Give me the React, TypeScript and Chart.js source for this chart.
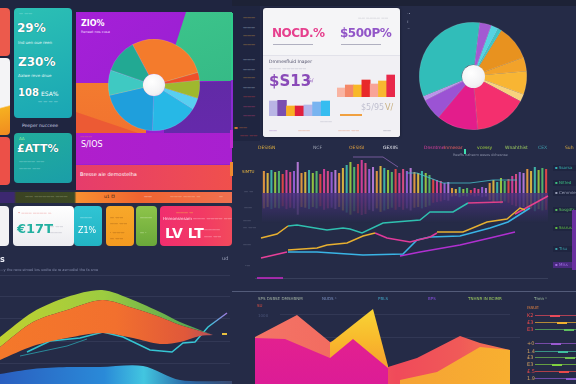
import React, { useEffect, useRef } from "react";
import { Chart, registerables } from "chart.js";

Chart.register(...registerables);

// ---------------- DATA ----------------
const donutLeftLabels = ["Orange", "Red", "Olive", "Sky", "Cyan", "Blue", "Aqua", "Teal"];
const donutLeftValues = [102, 10, 23, 15, 60, 75, 32, 43];
const donutLeftColors = ["#f47b2c", "#ee4f2a", "#9fb82e", "#58cff0", "#27b8e6", "#1f9fdc", "#3fc9c2", "#22a993"];

const donutRightLabels = ["Violet", "Cyan", "Aqua", "Orange", "Amber", "Yellow", "Sand", "Rose", "Magenta", "Purple", "Lilac", "Teal"];
const donutRightValues = [13, 8, 4, 38, 15, 25, 8, 57, 45, 23, 5, 119];
const donutRightColors = ["#a35ad2", "#55d3e2", "#3cc4c4", "#e8921f", "#f2a22a", "#f8b533", "#f8d27e", "#f42f6e", "#e31d8b", "#9b53d4", "#bb94ea", "#31bdb9"];

const cardBarsLeft = [15, 16, 10, 10, 11, 14, 15];
const cardBarsLeftColors = ["#b9b5e5", "#7a4fb0", "#f8b024", "#e0203e", "#b4b6ea", "#78b4f0", "#36bdf0"];
const cardBarsRight = [9, 12, 12, 17, 13, 16, 22];
const cardBarsRightColors = ["#f9b4a2", "#f48868", "#f8b828", "#e82a2a", "#f8a498", "#f8b830", "#e8284a"];

const midBars = [
  22, 20, 23, 21, 22, 19, 23, 21, 22, 31, 20,
  21, 23, 20, 22, 19, 24, 22, 21, 23, 20, 25, 28, 31,
  26, 29, 33, 30, 24, 26, 22, 27, 25, 23, 21, 24, 20,
  24, 22, 25, 21, 20, 22,
  20, 18, 14, 13, 12, 10, 11,
  5, 4, 6, 4, 5, 3, 5, 4, 6, 5,
  10, 13, 11, 15, 12, 14, 17,
  19, 21, 20, 24, 22, 26, 23, 25, 24,
];
const midBarPalette = ["#f0a040", "#e8508a", "#58c070", "#e8c040", "#a060e0", "#f04848", "#40c0b0", "#c080e0", "#e040a0", "#a0d040"];

const lineYellowShort: [number, number][] = [[261, 54], [277, 58], [288, 66]];
const lineTeal: [number, number][] = [[288, 66], [297, 67], [327, 62], [343, 64], [350, 63], [362, 59], [383, 69], [420, 72], [430, 80], [453, 80], [468, 89]];
const linePinkTop: [number, number][] = [[468, 89], [503, 90]];
const lineYellowLong: [number, number][] = [[288, 42], [317, 44], [327, 47], [347, 49], [363, 56], [375, 59]];
const lineMagentaMid: [number, number][] = [[375, 59], [387, 54], [410, 50], [430, 55], [437, 59]];
const lineYellowRight: [number, number][] = [[437, 60], [463, 60], [487, 70], [507, 73], [520, 84], [525, 82]];
const lineCyan: [number, number][] = [[288, 40], [317, 40], [363, 37], [403, 38], [417, 52], [430, 55], [460, 56], [490, 64], [508, 70], [530, 84]];
const linePinkEnd: [number, number][] = [[515, 78], [548, 96]];
const linePinkStart: [number, number][] = [[261, 34], [287, 40]];
const linePurple: [number, number][] = [[400, 36], [420, 40], [460, 47], [490, 54], [515, 60]];
const lineMagentaLow: [number, number][] = [[257, 14], [283, 14]];
const lineTealUpper: [number, number][] = [[407, 119], [417, 119], [430, 114], [443, 109], [470, 109], [493, 112], [517, 112]];
const lineGrayUpper: [number, number][] = [[353, 135], [383, 135], [398, 125]];

const areaX = [0, 33, 67, 102, 133, 160, 180, 200, 213];
const areaGreenTop = [47, 72, 87, 94, 84, 72, 62, 54, 49];
const areaOrangeTop = [37, 62, 74, 84, 76, 67, 59, 53, 49];
const areaOrangeBottom = [24, 38, 46, 51, 46, 40, 42, 48, 49];
const cyanLineX = [27, 50, 80, 103, 123, 150, 172, 183, 195, 208, 227];
const cyanLineY = [32, 43, 46, 52, 47, 34, 32, 41, 42, 57, 71];
const tealLowX = [20, 67, 87];
const tealLowY = [28, 38, 45];
const blueAreaX = [0, 33, 67, 100, 143, 180, 232];
const blueAreaY = [10, 15, 17, 17, 18, 4, 3];

const coralX = [255, 297, 330, 373, 388, 417, 460, 480, 510];
const coralY = [47, 69, 42, 54, 17, 26, 48, 41, 34];
const yellowX = [330, 373, 388];
const yellowY = [41, 75, 18];
const magentaX = [255, 285, 330, 353, 388];
const magentaY = [46, 45, 26, 45, 16];
const amberX = [400, 437, 480, 510];
const amberY = [4, 12, 37, 34];

const brLegendLabels = ["K2", "£3", "E3", "+0", "1.4", "£3", "E3", "£.5", "1.9"];
const brLegendColors = ["#e84a5a", "#f0b030", "#60c060", "#9a5ad0", "#40c0a0", "#70c050", "#80d040", "#e84a4a", "#8a5ad0"];

const midLegendLabels = ["Ssarsa", "Nitted", "Cemmie", "Sosgdts", "Sssrus", "Tisu", "Mlss"];
const midLegendColors = ["#3ab0b0", "#3cc080", "#9aa0b8", "#5ac060", "#60c040", "#3aa0a8", "#a070e0"];

// ---------------- HELPERS ----------------
const FONT = "'DejaVu Sans', Roboto, sans-serif";
const BG = "#252b47";

function hexA(hex: string, a: number) {
  const n = parseInt(hex.slice(1), 16);
  return `rgba(${(n >> 16) & 255},${(n >> 8) & 255},${n & 255},${a})`;
}

const baseOpts: any = {
  responsive: false,
  animation: false,
  events: [],
  plugins: { legend: { display: false }, tooltip: { enabled: false } },
  layout: { padding: 0 },
};

function xy(xs: number[], ys: number[]) {
  return xs.map((x, i) => ({ x, y: ys[i] }));
}
function pts(p: [number, number][]) {
  return p.map(([x, y]) => ({ x, y }));
}
function lineDs(p: [number, number][], color: string, w = 1.5) {
  return { type: "line", data: pts(p), borderColor: color, borderWidth: w, pointRadius: 0, fill: false, tension: 0 };
}
function hGrad(stops: [number, string][]) {
  return (ctx: any) => {
    const { chart } = ctx;
    const ca = chart.chartArea;
    if (!ca) return stops[0][1];
    const g = chart.ctx.createLinearGradient(ca.left, 0, ca.right, 0);
    stops.forEach(([o, c]) => g.addColorStop(o, c));
    return g;
  };
}
function vGrad(stops: [number, string][]) {
  return (ctx: any) => {
    const { chart } = ctx;
    const ca = chart.chartArea;
    if (!ca) return stops[0][1];
    const g = chart.ctx.createLinearGradient(0, ca.top, 0, ca.bottom);
    stops.forEach(([o, c]) => g.addColorStop(o, c));
    return g;
  };
}

function ChartCanvas({ x, y, w, h, make }: { x: number; y: number; w: number; h: number; make: () => any }) {
  const ref = useRef<HTMLCanvasElement>(null);
  useEffect(() => {
    const chart = new Chart(ref.current as HTMLCanvasElement, make());
    return () => chart.destroy();
  }, []);
  return <canvas ref={ref} width={w} height={h} style={{ position: "absolute", left: x, top: y, width: w, height: h }} />;
}

function Box({ x, y, w, h, bg, r = 0, style, children }: any) {
  return (
    <div style={{ position: "absolute", left: x, top: y, width: w, height: h, background: bg, borderRadius: r, overflow: "hidden", ...style }}>
      {children}
    </div>
  );
}

function Txt({ x, y, t, s = 5, c = "#c8cce0", b = false, style }: any) {
  return (
    <span style={{ position: "absolute", left: x, top: y, fontSize: s, color: c, fontWeight: b ? 700 : 400, whiteSpace: "nowrap", lineHeight: 1, fontFamily: FONT, ...style }}>
      {t}
    </span>
  );
}

function Line({ x, y, w, h = 1, c }: any) {
  return <div style={{ position: "absolute", left: x, top: y, width: w, height: h, background: c }} />;
}

// ---------------- CHART CONFIGS ----------------
const donutLeft = () => ({
  type: "doughnut",
  data: { labels: donutLeftLabels, datasets: [{ data: donutLeftValues, backgroundColor: donutLeftColors, borderWidth: 0.5, borderColor: "rgba(255,255,255,0.25)" }] },
  options: { ...baseOpts, rotation: -28, cutout: "24%" },
});

const donutRight = () => ({
  type: "doughnut",
  data: { labels: donutRightLabels, datasets: [{ data: donutRightValues, backgroundColor: donutRightColors, borderWidth: 0.5, borderColor: "rgba(255,255,255,0.25)" }] },
  options: { ...baseOpts, rotation: 7, cutout: "21%" },
});

const smallBars = (vals: number[], colors: string[], max: number) => () => ({
  type: "bar",
  data: { labels: vals.map((_, i) => String(i)), datasets: [{ data: vals, backgroundColor: colors, barPercentage: 1, categoryPercentage: 1, borderWidth: 0 }] },
  options: { ...baseOpts, scales: { x: { display: false }, y: { display: false, min: 0, max } } },
});

const midBarChart = () => ({
  type: "bar",
  data: {
    labels: midBars.map((_, i) => String(i)),
    datasets: [
      { data: midBars, backgroundColor: midBars.map((_, i) => hexA(midBarPalette[(i * 3) % midBarPalette.length], 0.9)), barPercentage: 0.55, categoryPercentage: 1 },
      { data: midBars.map((v) => -v * 0.7), backgroundColor: midBars.map((_, i) => hexA(midBarPalette[(i * 3) % midBarPalette.length], 0.18)), barPercentage: 0.55, categoryPercentage: 1 },
    ],
  },
  options: { ...baseOpts, scales: { x: { display: false, stacked: true }, y: { display: false, stacked: true, min: -22, max: 38 } } },
});

const midLineChart = () => ({
  type: "line",
  data: {
    datasets: [
      lineDs(lineGrayUpper, "rgba(170,120,210,0.6)", 1),
      lineDs(lineTealUpper, "rgba(70,190,200,0.8)", 1.2),
      lineDs(linePinkTop, "#e0408a", 1.4),
      lineDs(lineYellowShort, "#e8b030"),
      lineDs(lineTeal, "#2fc0b0"),
      lineDs(lineYellowLong, "#e8b030"),
      lineDs(lineMagentaMid, "#e03a9a"),
      lineDs(lineYellowRight, "#e6b032"),
      lineDs(lineCyan, "#3ab4e6"),
      lineDs(linePinkEnd, "#e8408e"),
      lineDs(linePinkStart, "#e8409a"),
      lineDs(linePurple, "#b030d0"),
      lineDs(lineMagentaLow, "#c02ac0", 1.6),
    ],
  },
  options: { ...baseOpts, scales: { x: { type: "linear", display: false, min: 255, max: 555 }, y: { display: false, min: 0, max: 142 } } },
});

const areaLeftChart = () => ({
  type: "line",
  data: {
    datasets: [
      { data: xy(blueAreaX, blueAreaY), borderWidth: 0, pointRadius: 0, tension: 0.3, fill: "origin", backgroundColor: hGrad([[0, "#2a5fc0"], [0.45, "#2a8ad8"], [0.62, "#42c6e0"], [0.8, "#2a6aa8"], [1, "#3a4a70"]]) },
      { data: xy(areaX, areaOrangeBottom), borderWidth: 0, pointRadius: 0, tension: 0.3, fill: false },
      { data: xy(areaX, areaOrangeTop), borderWidth: 0, pointRadius: 0, tension: 0.3, fill: 1, backgroundColor: hGrad([[0, "#f4782a"], [0.5, "#f2702e"], [0.8, "#e0583a"], [1, "#9a4a70"]]) },
      { data: xy(areaX, areaGreenTop), borderWidth: 0, pointRadius: 0, tension: 0.3, fill: 2, backgroundColor: hGrad([[0, "#c0d030"], [0.45, "#9ccc40"], [0.8, "#5aa850"], [1, "#3a8a70"]]) },
      { data: xy(tealLowX, tealLowY), borderColor: "#2a8a9a", borderWidth: 1, pointRadius: 0, fill: false },
      { data: xy(cyanLineX, cyanLineY), borderColor: hGrad([[0, "#30c0c8"], [0.9, "#38c8d8"], [1, "#c060e0"]]), borderWidth: 1.5, pointRadius: 0, fill: false },
    ],
  },
  options: { ...baseOpts, scales: { x: { type: "linear", display: false, min: 0, max: 232 }, y: { display: false, min: 0, max: 129 } } },
});

// dataset 0 is painted on top by Chart.js, so the front layer comes first
const areaRightChart = () => ({
  type: "line",
  data: {
    datasets: [
      { data: xy(magentaX, magentaY), borderWidth: 0, pointRadius: 0, fill: "origin", backgroundColor: vGrad([[0, "#e8248a"], [1, "#dc1c96"]]) },
      { data: xy(amberX, amberY), borderWidth: 0, pointRadius: 0, fill: "origin", backgroundColor: hGrad([[0, "#f47a40"], [0.3, "#f49a38"], [1, "#f8b030"]]) },
      { data: xy(yellowX, yellowY), borderWidth: 0, pointRadius: 0, fill: "origin", backgroundColor: vGrad([[0, "#f8dc38"], [0.5, "#f8b82c"], [1, "#f49030"]]) },
      { data: xy(coralX, coralY), borderWidth: 0, pointRadius: 0, fill: "origin", backgroundColor: hGrad([[0, "#f47466"], [0.3, "#f26c60"], [0.55, "#f04a5a"], [0.8, "#f05a58"], [1, "#f47a50"]]) },
    ],
  },
  options: { ...baseOpts, scales: { x: { type: "linear", display: false, min: 255, max: 512 }, y: { display: false, min: 0, max: 84 } } },
});

// ---------------- APP ----------------
export default function App() {
  const hole = (cx: number, cy: number, r: number) => (
    <div style={{ position: "absolute", left: cx - r, top: cy - r, width: r * 2, height: r * 2, borderRadius: "50%", background: "radial-gradient(circle at 40% 35%, #ffffff 0%, #f2f2f4 60%, #dcdce2 100%)" }} />
  );
  return (
    <div style={{ position: "fixed", left: 0, top: 0, width: 576, height: 384, background: BG, overflow: "hidden", fontFamily: FONT }}>
      {/* header */}
      <Box x={0} y={0} w={576} h={6} bg="#1d2236" />
      <Box x={0} y={0} w={232} h={190} bg="#1f2540" />
      <Box x={232} y={6} w={28} h={135} bg="#1f2540" />

      {/* left edge cards */}
      <Box x={0} y={8} w={10} h={48} bg="#ec5a4c" r="0 4px 4px 0" />
      <Box x={0} y={58} w={10} h={77} bg="linear-gradient(165deg, #f4f4f6 62%, #f6b020 64%, #f08a20 100%)" r="0 4px 4px 0" />
      <Box x={0} y={137} w={10} h={48} bg="#ec5048" r="0 4px 4px 0" />

      {/* teal cards */}
      <Box x={14} y={8} w={58} h={110} bg="linear-gradient(160deg, #2cc0b4, #1aa6b4)" r={4}>
        <Txt x={5} y={4} t="— ——" s={4} c="#bff0ec" />
        <Txt x={3} y={14} t="29%" s={12} c="#ffffff" b style={{ textShadow: "0 0 1px #0a5a60" }} />
        <Txt x={4} y={33} t="Ind uen oue reen" s={4} c="#e0f6f4" />
        <Txt x={4} y={48} t="Z30%" s={12} c="#ffffff" b style={{ textShadow: "0 0 1px #0a5a60" }} />
        <Txt x={4} y={66} t="Aalwe reve dnue" s={4} c="#e0f6f4" />
        <Txt x={4} y={80} t="108" s={10} c="#ffffff" b style={{ textShadow: "0 0 1px #0a5a60" }} />
        <Txt x={27} y={83} t="ESA%" s={6} c="#ffffff" />
        <Txt x={24} y={92} t="— — — —" s={4} c="#e0f6f4" />
      </Box>
      <Txt x={22} y={124} t="Peeper nucceee" s={4.5} c="#c8cce0" />
      <Box x={14} y={133} w={58} h={50} bg="linear-gradient(160deg, #22ad9c, #1a9ea8)" r={4}>
        <Txt x={5} y={4} t="ΔΔ" s={4} c="#8ef0a0" />
        <Txt x={3} y={10} t="£ATT%" s={11} c="#ffffff" b style={{ textShadow: "0 0 1px #0a5a60" }} />
        <Txt x={5} y={27} t="———— ——" s={4} c="#d0f0ec" />
        <Txt x={5} y={34} t="——— ——" s={4} c="#d0f0ec" />
      </Box>

      {/* big gradient panel */}
      <Box x={76} y={12} w={156} h={178} bg="linear-gradient(135deg, #a61fd8, #8e22cc)">
        <div style={{ position: "absolute", inset: 0, background: "linear-gradient(160deg, #3ec88c, #2fae82)", clipPath: "polygon(110px 0, 156px 0, 156px 69px, 88px 69px)" }} />
        <div style={{ position: "absolute", inset: 0, background: "linear-gradient(180deg, #5c2ba0, #6a28b0)", clipPath: "polygon(88px 71px, 156px 69px, 156px 121px, 88px 121px)" }} />
        <div style={{ position: "absolute", inset: 0, background: "linear-gradient(180deg, #f5862e, #f06a30)", clipPath: "polygon(0 71px, 70px 71px, 70px 121px, 0 121px)" }} />
        <div style={{ position: "absolute", inset: 0, background: "#ec5a34", clipPath: "polygon(0 100px, 62px 121px, 0 121px)" }} />
        <div style={{ position: "absolute", inset: 0, background: "linear-gradient(90deg, #b01ecc, #a820d0)", clipPath: "polygon(0 121px, 156px 121px, 156px 152px, 0 152px)" }} />
        <div style={{ position: "absolute", inset: 0, background: "linear-gradient(90deg, #e63c6c, #f0504c)", clipPath: "polygon(0 153px, 156px 153px, 156px 178px, 0 178px)" }} />
        <Txt x={5} y={8} t="ZIO%" s={8} c="#ffffff" b />
        <Txt x={5} y={19} t="Reneat nos cusa" s={3.5} c="#f0d8ff" />
        <Txt x={4} y={123} t="———" s={4} c="#f0a040" />
        <Txt x={5} y={129} t="S/IOS" s={8} c="#ffffff" />
        <Txt x={4} y={160} t="Bresse aie demostelha" s={5} c="#ffffff" />
      </Box>
      <ChartCanvas x={108} y={39} w={92} h={92} make={donutLeft} />
      {hole(154, 85, 11)}

      {/* dark side column */}
      <Line x={231} y={13} w={2} h={67} c="#2ecc8a" />
      <Line x={231} y={80} w={2} h={55} c="#8a2ad0" />
      {["#e8c040", "#dfe2ee", "#e8c040", "#e8c040", "#dfe2ee", "#dfe2ee", "#e8c040", "#dfe2ee", "#f04848", "#e84a8a", "#e84a8a"].map((c, i) => (
        <Txt key={i} x={243} y={[16, 26, 34, 43, 58, 68, 76, 86, 95, 105, 114][i]} t="———" s={4} c={c} />
      ))}
      <Txt x={234} y={126} t="▬ ——" s={4} c="#f08a30" />
      <Txt x={240} y={134} t="—— ——" s={4} c="#f04848" />

      {/* white card */}
      <Box x={263} y={8} w={137} h={129} bg="#f5f5f7" r={3} style={{ boxShadow: "0 0 3px rgba(0,0,0,0.4)" }}>
        <Box x={0} y={47} w={137} h={82} bg="#f1f0f4" style={{ borderTop: "1px solid #e2e2ea" }} />
        <Txt x={95} y={9} t="—— ———— ——" s={3.5} c="#9a9aaa" />
        <Txt x={9} y={19} t="NOCD.%" s={12} c="#e6408e" b style={{ letterSpacing: -0.5 }} />
        <Txt x={77} y={19} t="$500P%" s={12} c="#9256c8" b style={{ letterSpacing: -0.5 }} />
        <Line x={10} y={36} w={40} h={1} c="#b0b0c0" />
        <Line x={78} y={36} w={40} h={1} c="#b0b0c0" />
        <Txt x={6} y={52} t="Dmmesfluid Inaper" s={4.5} c="#50506a" />
        <Txt x={6} y={59} t="——— ——————" s={4} c="#9a9ab0" />
        <Txt x={6} y={66} t="$S13" s={15} c="#8a4ab8" b />
        <Txt x={44} y={70} t="%/" s={5} c="#8a4ab8" />
        <Txt x={98} y={96} t="$5/95" s={8} c="#c0c0d0" />
        <Txt x={122} y={96} t="V/" s={8} c="#c8b080" />
        <Line x={77} y={106} w={22} h={1.5} c="#f0a040" />
        <Txt x={57} y={112} t="———" s={4} c="#9a9ab0" />
        <Txt x={6} y={121} t="——" s={4} c="#8a4ab8" />
        <Txt x={35} y={121} t="———" s={4} c="#e07040" />
        <Txt x={75} y={121} t="———  ——" s={4} c="#e07040" />
        <Txt x={120} y={121} t="——" s={4} c="#60607a" />
      </Box>
      <ChartCanvas x={269} y={100} w={61} h={16} make={smallBars(cardBarsLeft, cardBarsLeftColors, 16)} />
      <ChartCanvas x={337} y={74} w={58} h={23} make={smallBars(cardBarsRight, cardBarsRightColors, 23)} />

      {/* right donut */}
      <Txt x={407} y={12} t="·•" s={4} c="#8a90a8" />
      <Txt x={407} y={20} t="ɪ" s={4} c="#8a90a8" />
      <Txt x={407} y={27} t="~" s={4} c="#8a90a8" />
      <ChartCanvas x={419} y={22} w={108} h={108} make={donutRight} />
      {hole(473, 76, 11.5)}

      {/* middle chart header */}
      {[
        [258, "DESIGN", "#e0b040"], [313, "NCF", "#9aa0b0"], [349, "OESIGI", "#e0a040"], [383, "GEXIIS", "#e8eaf2"],
        [424, "Dnsntme", "#e040a0"], [444, "Inmeear", "#f06060"], [477, "vcessy", "#a0d040"], [505, "Wnahthist", "#a0d060"],
        [538, "CEX", "#40a0b0"], [565, "Suh", "#e0b040"],
      ].map(([x, t, c], i) => (
        <Txt key={i} x={x} y={146} t={t} s={4.5} c={c} />
      ))}
      <Txt x={453} y={154} t="Reeffs nahsom eesos dchesnse" s={3.5} c="#8a90a8" />
      <Line x={464} y={149} w={2} h={5} c="#40e0b0" />
      {[[242, 170, "SIMTU", "#e0b040"], [244, 190, "— —", "#8a90a8"], [244, 206, "——", "#8a90a8"], [243, 219, "——", "#8a90a8"], [243, 226, "— ——", "#8a90a8"], [243, 243, "——", "#8a90a8"], [245, 264, "·—", "#8a90a8"]].map(
        ([x, y, t, c], i) => <Txt key={i} x={x} y={y} t={t} s={4} c={c} />
      )}
      <Line x={230} y={130} w={3} h={18} c="#c02ad0" />
      <Line x={230} y={162} w={3} h={14} c="#f08a30" />
      <div style={{ position: "absolute", left: 262, top: 193, width: 286, height: 30, background: "linear-gradient(180deg, rgba(130,60,210,0.35), rgba(130,60,210,0))" }} />
      <ChartCanvas x={262} y={155} w={286} h={60} make={midBarChart} />
      <Line x={255} y={278} w={293} h={1} c="rgba(200,210,240,0.12)" />
      <ChartCanvas x={255} y={150} w={300} h={142} make={midLineChart} />
      {midLegendLabels.map((t, i) => (
        <div key={i} style={{ position: "absolute", left: 553, top: [165, 180, 190, 207, 225, 246, 262][i], width: 23, height: 6, background: i === 6 ? "#4a2a80" : "#1f2540", fontSize: 4, color: midLegendColors[i], lineHeight: "6px", paddingLeft: 2, fontFamily: FONT, whiteSpace: "nowrap" }}>
          ▪ {t}
        </div>
      ))}
      <Line x={572} y={210} w={4} h={60} c="#6a30a0" />
      <Line x={232} y={291} w={344} h={1} c="rgba(170,180,215,0.35)" />

      {/* bottom-left card row */}
      <div style={{ position: "absolute", left: 0, top: 192, width: 232, height: 11, background: "linear-gradient(90deg, #3c2870 0, #3c2870 6%, #3b4322 7%, #3d4a24 32%, #f89030 33%, #f06430 60%, #f07050 100%)" }} />
      <Txt x={25} y={195} t="—— ————— ———" s={4} c="#c0c8a0" />
      <Txt x={104} y={195} t="u1 ℧" s={4.5} c="#402010" />
      <Txt x={144} y={195} t="——" s={4} c="#ffffff" />
      <Txt x={170} y={195} t="——— ——— —" s={4} c="#ffe0d0" />
      <Txt x={219} y={195} t="—" s={4} c="#ffe0d0" />
      <Box x={0} y={206} w={9} h={40} bg="#f2f2f4" r="0 4px 4px 0" />
      <Box x={13} y={206} w={61} h={40} bg="linear-gradient(180deg, #ffffff, #ececf0)" r={4}>
        <Txt x={5} y={6} t="• ——— ———— —" s={3.5} c="#e05050" />
        <Txt x={4} y={16} t="€17T" s={13} c="#22b0a0" b />
        <Txt x={37} y={19} t="— ——" s={4} c="#9090a0" />
        <Txt x={37} y={25} t="———" s={4} c="#9090a0" />
      </Box>
      <Box x={74} y={206} w={28} h={40} bg="linear-gradient(180deg, #30c4d4, #22b4c4)" r={4}>
        <Txt x={6} y={10} t="———" s={4} c="#e0ffff" />
        <Txt x={4} y={21} t="Z1%" s={8} c="#ffffff" />
      </Box>
      <Box x={106} y={206} w={28} h={40} bg="linear-gradient(180deg, #f8a82a, #f49a20)" r={4}>
        <Txt x={4} y={10} t="— ——" s={4} c="#7a4010" />
        <Txt x={4} y={16} t="—— ——" s={4} c="#7a4010" />
        <Txt x={4} y={25} t="· ———" s={4} c="#7a4010" />
        <Txt x={4} y={31} t="— ——" s={4} c="#7a4010" />
      </Box>
      <Box x={136} y={206} w={21} h={40} bg="linear-gradient(180deg, #8ec44a, #6aa83a)" r={4}>
        <Txt x={4} y={10} t="———" s={4} c="#e8f8d0" />
        <Txt x={4} y={25} t="— ·" s={4} c="#e8f8d0" />
      </Box>
      <Box x={160} y={206} w={72} h={40} bg="linear-gradient(90deg, #f02e6e, #f23a64 60%, #f24a5c)" r={4}>
        <Txt x={16} y={5} t="——— —" s={4} c="#f8e040" />
        <Txt x={3} y={11} t="Hnmonsmsam ——— ———— ——" s={4} c="#ffe8ee" />
        <Txt x={5} y={20} t="LV LT" s={14} c="#ffffff" b />
        <Txt x={44} y={22} t="————" s={4} c="#ffe0e8" />
        <Txt x={44} y={29} t="—— ——" s={4} c="#ffe0e8" />
      </Box>

      {/* bottom-left area chart */}
      <Txt x={0} y={256} t="s" s={8} c="#e8eaf4" b />
      <Txt x={222} y={256} t="ud" s={5} c="#9aa0b8" />
      <Txt x={0} y={269} t="—y the reve eimed brs uodte de re asmudiel the fa sme" s={3.5} c="#8088a8" />
      {[275, 296, 318, 341, 363].map((y) => (
        <Line key={y} x={0} y={y} w={230} h={1} c="rgba(170,180,220,0.10)" />
      ))}
      <ChartCanvas x={0} y={255} w={232} h={129} make={areaLeftChart} />
      <Line x={222} y={333} w={5} h={2} c="#e8c040" />

      {/* bottom-right area chart */}
      {[
        [258, "SPS DSBSE DMSHBNM", "#a0b0a0"], [322, "NUDS ⁿ", "#7a90c0"], [378, "PBLS", "#40a0c0"], [428, "BPS", "#8a50e0"],
        [468, "TNHNR IN BCIMR", "#a0d060"], [534, "Tnnn ⁿ", "#a0c0a0"],
      ].map(([x, t, c], i) => (
        <Txt key={i} x={x} y={297} t={t} s={4} c={c} />
      ))}
      <Txt x={257} y={304} t="SU" s={4} c="#e05040" />
      <Txt x={258} y={314} t="1000" s={4} c="#4a5478" />
      <Line x={280} y={314} w={230} h={1} c="rgba(170,180,220,0.10)" />
      <Line x={300} y={337} w={220} h={1} c="rgba(170,180,220,0.10)" />
      <ChartCanvas x={255} y={300} w={257} h={84} make={areaRightChart} />
      <Txt x={527} y={306} t="ISSUE" s={4} c="#e08040" />
      {brLegendLabels.map((t, i) => {
        const y = [313, 320, 327, 341, 349, 355, 362, 369, 376][i];
        return (
          <React.Fragment key={i}>
            <Txt x={527} y={y} t={t} s={5} c={i < 3 || i === 7 ? "#f04a4a" : "#d0a060"} />
            <Line x={535} y={y + 2} w={41} h={1} c={hexA(brLegendColors[i], 0.7)} />
            <Line x={550 + ((i * 7) % 20)} y={y + 1.5} w={10} h={2} c={brLegendColors[i]} />
          </React.Fragment>
        );
      })}
    </div>
  );
}
